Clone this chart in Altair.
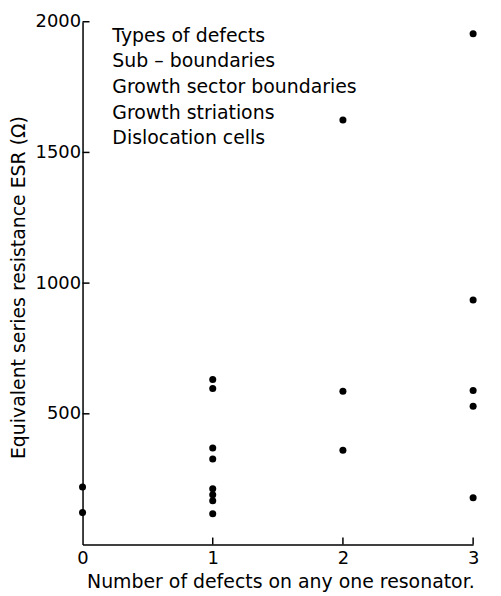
import altair as alt
import pandas as pd

# data
defects = [0, 0,
           1, 1, 1, 1, 1, 1, 1, 1,
           2, 2, 2,
           3, 3, 3, 3, 3]
esr = [220, 122,
       631, 597, 369, 327, 213, 190, 167, 118,
       1624, 586, 361,
       1954, 935, 589, 529, 179]

legend_lines = ["Types of defects", "Sub \u2013 boundaries", "Growth sector boundaries",
                "Growth striations", "Dislocation cells"]
y_ticks = [500, 1000, 1500, 2000]
x_ticks = [1, 2, 3]

FONT = "DejaVu Sans"
W, H = 393, 526

pts = pd.DataFrame({"n": defects, "esr": esr})
leg = pd.DataFrame({"label": legend_lines, "i": list(range(len(legend_lines)))})
yt = pd.DataFrame({"v": y_ticks})
xt = pd.DataFrame({"v": x_ticks})

xscale = alt.Scale(domain=[0, 3], nice=False, zero=True)
yscale = alt.Scale(domain=[0, 2000], nice=False)

points = alt.Chart(pts).mark_circle(size=50, color="black", opacity=1).encode(
    x=alt.X("n:Q", scale=xscale,
            axis=alt.Axis(title="Number of defects on any one resonator.",
                          values=[0, 1, 2, 3], format="d", grid=False,
                          tickSize=0, labelPadding=5, labelFontSize=18,
                          labelFont=FONT, labelColor="black", labelFlush=False,
                          titleFont=FONT, titleFontSize=19, titleFontWeight="normal",
                          titleColor="black", titleX=4, titleY=37,
                          titleAlign="left", titleBaseline="middle",
                          domainColor="black", domainWidth=1.5)),
    y=alt.Y("esr:Q", scale=yscale,
            axis=alt.Axis(title="Equivalent series resistance  ESR (\u03a9)",
                          values=y_ticks, format="d", grid=False, tickSize=0,
                          labelPadding=2, labelFlush=False,
                          labelFontSize=18, labelFont=FONT, labelColor="black",
                          titleFont=FONT, titleFontSize=19, titleFontWeight="normal",
                          titleColor="black", titleX=-64, titleY=H / 2 + 4,
                          titleAngle=270, titleAlign="center", titleBaseline="middle",
                          domainColor="black", domainWidth=1.5)),
)

ytick_marks = alt.Chart(yt).mark_rule(color="black", strokeWidth=1.5).encode(
    y=alt.Y("v:Q", scale=yscale),
    x=alt.value(0), x2=alt.value(7),
)
xtick_marks = alt.Chart(xt).mark_rule(color="black", strokeWidth=1.5).encode(
    x=alt.X("v:Q", scale=xscale),
    y=alt.value(H), y2=alt.value(H - 7),
)

legend_text = alt.Chart(leg).transform_calculate(
    py="14 + datum.i * 25.8"
).mark_text(align="left", baseline="middle", font=FONT, fontSize=19, color="black").encode(
    x=alt.value(30),
    y=alt.Y("py:Q", scale=None),
    text="label:N",
)

chart = alt.layer(points, ytick_marks, xtick_marks, legend_text).properties(
    width=W, height=H,
    autosize=alt.AutoSizeParams(type="none"),
    padding={"left": 75, "top": 12, "right": 20, "bottom": 50},
).configure_view(stroke=None)

chart.save("out.html", embed_options={"renderer": "svg", "actions": False})
